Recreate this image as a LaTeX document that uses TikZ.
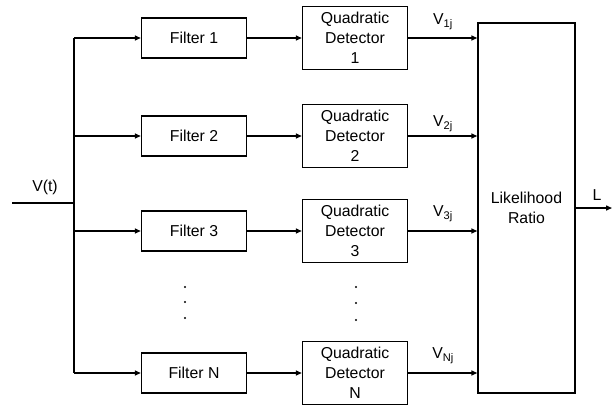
\documentclass[tikz,border=0pt]{standalone}
\usepackage{fontspec}
\setmainfont{Liberation Sans}
\usetikzlibrary{arrows.meta}

\tikzset{
  blk/.style={draw, line width=1.4pt, minimum width=105pt, align=center,
    font=\fontsize{15.8}{20}\selectfont, inner sep=0pt},
  filt/.style={blk, minimum height=40pt},
  quad/.style={blk, minimum height=63pt},
  wire/.style={line width=1.4pt},
  arr/.style={wire, -{Triangle[length=6pt,width=5pt]}},
  lbl/.style={font=\fontsize{15.8}{18}\selectfont, inner sep=0pt}
}

\begin{document}
\begin{tikzpicture}[x=1pt, y=-1pt]
    % frame
    \useasboundingbox (0,0) rectangle (612,407);

    % input and bus
    \coordinate (in) at (12,203);
    \coordinate (bin) at (74,203);
    \coordinate (b1) at (74,38);
    \coordinate (b2) at (74,136);
    \coordinate (b3) at (74,231);
    \coordinate (bN) at (74,373);
    \node[lbl] (vt) at (45,187) {V(t)};
    \draw[wire] (in) -- (bin);
    \draw[wire] (b1) -- (bN);

    % filters
    \node[filt] (f1) at (194,38) {Filter 1};
    \node[filt] (f2) at (194,136) {Filter 2};
    \node[filt] (f3) at (194,231) {Filter 3};
    \node[filt] (fN) at (194,373) {Filter N};

    % detectors
    \node[quad] (q1) at (355,38) {Quadratic\\Detector\\1};
    \node[quad] (q2) at (355,136) {Quadratic\\Detector\\2};
    \node[quad] (q3) at (355,231) {Quadratic\\Detector\\3};
    \node[quad] (qN) at (355,373) {Quadratic\\Detector\\N};

    % likelihood ratio
    \node[blk, minimum width=97pt, minimum height=370pt] (lr) at (526.5,208) {Likelihood\\Ratio};
    \coordinate (out) at (612,208);
    \node[lbl] (L) at (597,195) {L};

    \draw[arr] (b1) -- (f1);
    \draw[arr] (b2) -- (f2);
    \draw[arr] (b3) -- (f3);
    \draw[arr] (bN) -- (fN);
    \draw[arr] (f1) -- (q1);
    \draw[arr] (f2) -- (q2);
    \draw[arr] (f3) -- (q3);
    \draw[arr] (fN) -- (qN);
    \draw[arr] (q1) -- (q1 -| lr.west);
    \draw[arr] (q2) -- (q2 -| lr.west);
    \draw[arr] (q3) -- (q3 -| lr.west);
    \draw[arr] (qN) -- (qN -| lr.west);
    \draw[arr] (lr.east |- out) -- (out);

    % outputs of the detectors
    \node[lbl] (v1) at (443,22) {V\textsubscript{1j}};
    \node[lbl] (v2) at (443,124) {V\textsubscript{2j}};
    \node[lbl] (v3) at (443,214) {V\textsubscript{3j}};
    \node[lbl] (vN) at (443,356) {V\textsubscript{Nj}};

    % dots
    \fill (185,287) circle (1.2);
    \fill (185,302) circle (1.2);
    \fill (185,318) circle (1.2);
    \fill (356,287) circle (1.2);
    \fill (356,303) circle (1.2);
    \fill (356,320) circle (1.2);
\end{tikzpicture}
\end{document}
